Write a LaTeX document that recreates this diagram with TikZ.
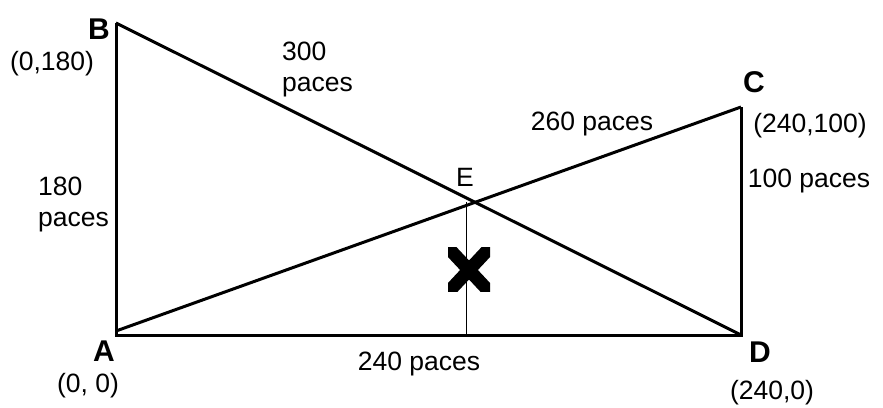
\documentclass[tikz,border=0pt]{standalone}
\usepackage{fontspec}
\setmainfont{Liberation Sans}
\usetikzlibrary{positioning}

\begin{document}
\begin{tikzpicture}[
		x=1pt, y=1pt,
		every node/.style={
			font=\fontsize{26.5}{31}\selectfont,
			align=center,
			inner sep=0pt
		},
		corner/.style={font=\fontsize{30}{31}\selectfont\bfseries},
		twoline/.style={align=left, anchor=north west},
		side/.style={line width=3pt, line join=miter}
		]
		
		\useasboundingbox (0,0) rectangle (883,407);
		
		%--------------------------------------------------
		% Points
		%--------------------------------------------------
		
		\coordinate (a) at (116,72);
		\coordinate (a1) at (116,76);
		\coordinate (b) at (116,384);
		\coordinate (c) at (741,300);
		\coordinate (d) at (741,72);
		\coordinate (e) at (intersection of b--d and a1--c);
		\coordinate (foot) at (466,72);
		
		%--------------------------------------------------
		% Sides
		%--------------------------------------------------
		
		\draw[side] (b) -- (a) -- (d) -- (c);
		\draw[side] (b) -- (d);
		\draw[side] (a1) -- (c);
		\draw[line width=0.8pt] (foot) -- (foot |- e);
		
		% the cross
		\begin{scope}
			\clip (448,115) rectangle (490,159);
			\draw[line width=13pt] (440,106) -- (498,168);
			\draw[line width=13pt] (440,168) -- (498,106);
		\end{scope}
		
		%--------------------------------------------------
		% Labels
		%--------------------------------------------------
		
		\node[corner] (lb) at (99,378) {B};
		\node[corner] (la) at (104,56) {A};
		\node[corner] (lc) at (754,325) {C};
		\node[corner] (ld) at (760,55) {D};
		\node (le) at (465,230) {E};
		
		\node (pb) at (52,343) {(0,180)};
		\node (pa) at (88,21) {(0, 0)};
		\node (pc) at (810,281) {(240,100)};
		\node (pd) at (772,14) {(240,0)};
		
		\node[twoline] (sbd) at (282,365) {300\\paces};
		\node[twoline] (sab) at (38,230) {180\\paces};
		\node (sad) at (419,43) {240 paces};
		\node (sac) at (592,283) {260 paces};
		\node (scd) at (809,226) {100 paces};
		
	\end{tikzpicture}
\end{document}
